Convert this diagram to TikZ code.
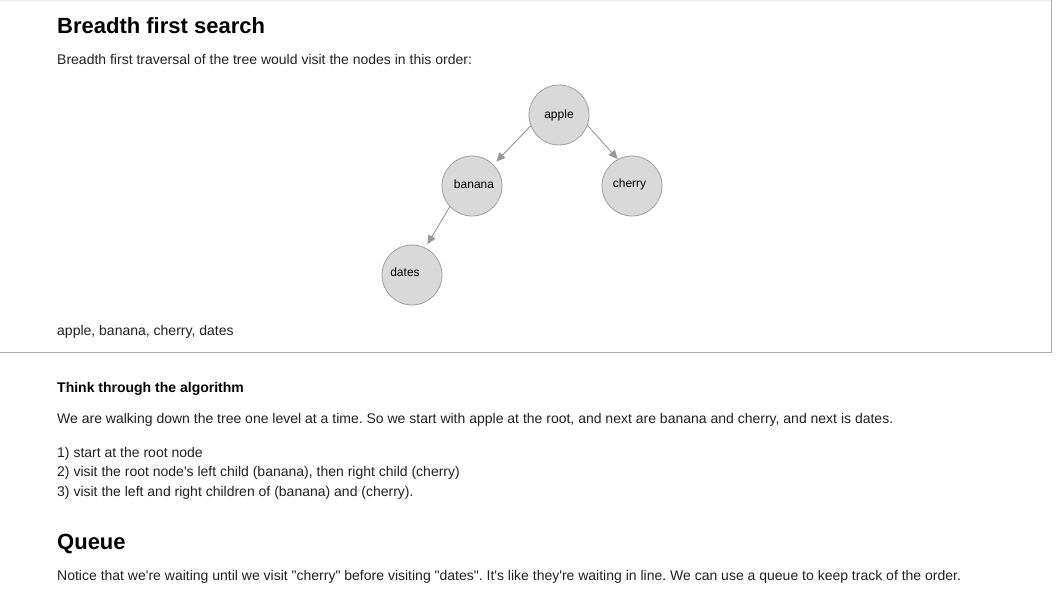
\documentclass[tikz,border=0pt]{standalone}
\usepackage{fontspec}
\defaultfontfeatures{Ligatures=TeXOff}
\setmainfont{Liberation Sans}[Ligatures=TeXOff]
\newfontfamily\rawfont{Liberation Sans}[Ligatures=TeXOff,Mapping=]
\usetikzlibrary{arrows.meta}
\definecolor{nodefill}{HTML}{D9D9D9}
\definecolor{nodeline}{HTML}{A0A0A0}
\definecolor{edgecol}{HTML}{999999}
\definecolor{boxline}{HTML}{AAAAAA}
\definecolor{boxtop}{HTML}{EEEEEE}
\definecolor{txt}{HTML}{222222}
\newcommand\myqd{{\rawfont\char34\relax}}
\newcommand\myqs{{\rawfont\char39\relax}}
\tikzset{
  treenode/.style={circle, draw=nodeline, fill=nodefill, line width=0.8pt, minimum size=60pt, inner sep=0pt, font=\fontsize{12}{14}\selectfont, text=black},
  edge/.style={draw=edgecol, line width=0.9pt, -{Triangle[length=9pt,width=8pt]}},
  htitle/.style={anchor=base west, inner sep=0pt, font=\fontsize{22}{26}\selectfont\bfseries, text=black},
  body/.style={anchor=base west, inner sep=0pt, font=\fontsize{14}{17}\selectfont, text=txt},
  bodyb/.style={anchor=base west, inner sep=0pt, font=\fontsize{14}{17}\selectfont\bfseries, text=black},
}
\frenchspacing
\begin{document}
\begin{tikzpicture}[x=1pt,y=-1pt]
\useasboundingbox (0,0) rectangle (1060,607);
\fill[white] (0,0) rectangle (1060,607);
% box
\draw[boxtop, line width=1pt] (0,0.5) -- (1051,0.5);
\draw[boxline, line width=1pt] (1051,0.5) -- (1051,352) -- (0,352);
% texts
\node[htitle] (t1) at (57,34) {Breadth first search};
\node[body] (p1) at (57,65) {Breadth first traversal of the tree would visit the nodes in this order:};
\node[body] (p2) at (57,335.5) {apple, banana, cherry, dates};
\node[bodyb] (t2) at (57,392) {Think through the algorithm};
\node[body] (p3) at (57,423) {We are walking down the tree one level at a time. So we start with apple at the root, and next are banana and cherry, and next is dates.};
\node[body] (l1) at (57,457) {1) start at the root node};
\node[body] (l2) at (57,476.5) {2) visit the root node\myqs s left child (banana), then right child (cherry)};
\node[body] (l3) at (57,496) {3) visit the left and right children of (banana) and (cherry).};
\node[htitle] (t3) at (57,549.5) {Queue};
\node[body] (p4) at (57,580) {Notice that we\myqs re waiting until we visit \myqd cherry\myqd\ before visiting \myqd dates\myqd. It\myqs s like they\myqs re waiting in line. We can use a queue to keep track of the order.};
% tree
\node[treenode] (apple) at (559,115) {\raisebox{0.5pt}{apple}};
\node[treenode] (banana) at (472,186) {\hspace*{4pt}\raisebox{3pt}{banana}};
\node[treenode] (cherry) at (632,186) {\raisebox{6pt}{cherry}\hspace*{5pt}};
\node[treenode] (dates) at (412,275) {\raisebox{6pt}{dates}\hspace*{14pt}};
\draw[edge, shorten >=4pt] (apple.201) -- (banana.45);
\draw[edge] (apple.-20) -- (cherry.118);
\draw[edge, shorten >=4pt] (banana.223) -- (dates.64);
\end{tikzpicture}
\end{document}
